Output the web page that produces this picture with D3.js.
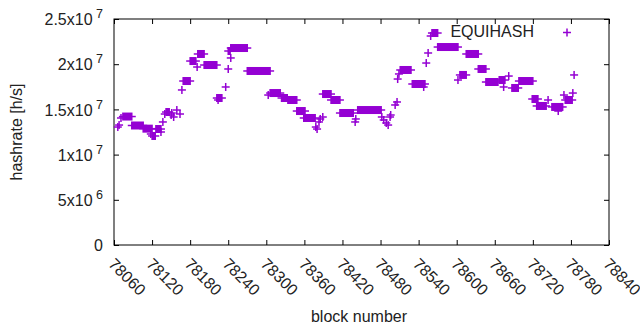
<!DOCTYPE html>
<html>
<head>
<meta charset="utf-8">
<script src="https://cdn.jsdelivr.net/npm/d3@7"></script>
<style>
  body { margin: 0; background: #fff; }
  text { font-family: "Liberation Sans", Arial, sans-serif; }
</style>
</head>
<body>
<div id="chart"></div>
<script>
// runs of consecutive blocks with the same hashrate (single points have start == end)
const runStart = [78066, 78068, 78071, 78074, 78088, 78106, 78118, 78120, 78126, 78134,
  78137, 78140, 78142, 78150, 78151, 78154, 78159, 78164, 78167, 78169,
  78180, 78191, 78192, 78202, 78222, 78224, 78236, 78240, 78240, 78244,
  78244, 78270, 78303, 78306, 78324, 78334, 78348, 78359, 78378, 78380,
  78383, 78385, 78389, 78389, 78402, 78416, 78440, 78441, 78444, 78482,
  78485, 78489, 78492, 78495, 78496, 78503, 78506, 78507, 78509, 78511,
  78530, 78548, 78552, 78555, 78559, 78561, 78570, 78602, 78605, 78615,
  78634, 78646, 78667, 78674, 78682, 78687, 78698, 78719, 78726, 78744,
  78750, 78760, 78769, 78771, 78783, 78785];
const runEnd = [78066, 78068, 78071, 78088, 78106, 78120, 78118, 78125, 78134, 78134,
  78137, 78140, 78147, 78150, 78151, 78154, 78159, 78164, 78167, 78180,
  78189, 78191, 78202, 78222, 78230, 78224, 78236, 78240, 78243, 78244,
  78270, 78306, 78303, 78322, 78333, 78348, 78361, 78377, 78378, 78380,
  78383, 78385, 78389, 78402, 78416, 78437, 78440, 78441, 78481, 78482,
  78485, 78489, 78492, 78495, 78496, 78503, 78506, 78507, 78509, 78528,
  78550, 78548, 78552, 78555, 78559, 78570, 78602, 78602, 78615, 78634,
  78646, 78665, 78676, 78674, 78682, 78697, 78720, 78728, 78741, 78744,
  78767, 78760, 78769, 78782, 78783, 78785];
const hashrate = [13.05e6, 13.27e6, 14.05e6, 14.21e6, 13.22e6, 12.87e6, 12.28e6, 12.06e6, 12.83e6, 12.50e6,
  13.61e6, 14.49e6, 14.71e6, 14.38e6, 14.60e6, 14.16e6, 14.93e6, 14.49e6, 17.15e6, 18.14e6,
  20.35e6, 19.69e6, 21.13e6, 19.91e6, 16.26e6, 16.04e6, 17.48e6, 19.47e6, 21.46e6, 20.69e6,
  21.79e6, 19.25e6, 16.59e6, 16.81e6, 16.26e6, 16.04e6, 14.82e6, 14.05e6, 13.05e6, 12.83e6,
  13.61e6, 13.94e6, 14.16e6, 16.70e6, 16.04e6, 14.60e6, 13.61e6, 13.94e6, 14.93e6, 14.16e6,
  13.83e6, 13.50e6, 13.27e6, 14.16e6, 14.38e6, 15.49e6, 15.82e6, 18.36e6, 18.92e6, 19.36e6,
  17.81e6, 17.48e6, 20.13e6, 21.24e6, 23.12e6, 23.45e6, 21.90e6, 18.25e6, 18.81e6, 21.13e6,
  19.47e6, 18.03e6, 18.25e6, 17.48e6, 18.69e6, 17.37e6, 18.14e6, 16.15e6, 15.38e6, 16.04e6,
  15.27e6, 14.82e6, 16.59e6, 16.04e6, 16.81e6, 18.81e6];

const xTicks = [78060, 78120, 78180, 78240, 78300, 78360, 78420, 78480, 78540, 78600, 78660, 78720, 78780, 78840];
const yTicks = [0, 5e6, 1e7, 1.5e7, 2e7, 2.5e7];
const yTickMant = ["0", "5x10", "1x10", "1.5x10", "2x10", "2.5x10"];
const yTickExp = ["", "6", "7", "7", "7", "7"];
const seriesName = "EQUIHASH";

const color = "#9400d3";
const fontSize = 16;
const W = 640, H = 330;
const plotL = 114, plotR = 609, plotT = 19, plotB = 245;

const svg = d3.select("#chart").append("svg")
  .attr("width", W).attr("height", H);
svg.append("rect").attr("width", W).attr("height", H).attr("fill", "#fff");

const x = d3.scaleLinear().domain([78060, 78840]).range([plotL, plotR]);
const y = d3.scaleLinear().domain([0, 2.5e7]).range([plotB, plotT]);

// axes with inward ticks, mirrored on top/right
const xAxis = svg.append("g")
  .attr("transform", "translate(0," + plotB + ")")
  .call(d3.axisBottom(x).tickValues(xTicks).tickSize(-5).tickFormat(d3.format("d")));
xAxis.selectAll("text")
  .attr("y", 0).attr("dy", 0)
  .attr("transform", "translate(-7,20) rotate(45)")
  .style("text-anchor", "start");

svg.append("g")
  .attr("transform", "translate(0," + plotT + ")")
  .call(d3.axisTop(x).tickValues(xTicks).tickSize(-5).tickFormat(""));

const yAxis = svg.append("g")
  .attr("transform", "translate(" + plotL + ",0)")
  .call(d3.axisLeft(y).tickValues(yTicks).tickSize(-5).tickPadding(11));
yAxis.selectAll("text").each(function(d, i) {
  const t = d3.select(this).text(null).attr("dy", "0.36em");
  t.append("tspan").text(yTickMant[i]);
  if (yTickExp[i]) t.append("tspan").attr("dy", -7).attr("font-size", 12.5).text(" " + yTickExp[i]);
});

svg.append("g")
  .attr("transform", "translate(" + plotR + ",0)")
  .call(d3.axisRight(y).tickValues(yTicks).tickSize(-5).tickFormat(""));

svg.selectAll(".domain").remove();
svg.selectAll(".tick line").attr("stroke", "#000");
svg.selectAll(".tick text")
  .attr("font-size", fontSize)
  .attr("fill", "#222");

svg.append("rect")
  .attr("x", plotL).attr("y", plotT)
  .attr("width", plotR - plotL).attr("height", plotB - plotT)
  .attr("fill", "none").attr("stroke", "#000").attr("stroke-width", 1);

// points: each block drawn as "+", consecutive equal values merge into a bar
const idx = d3.range(runStart.length);
const g = svg.append("g");
g.selectAll(".arm").data(idx).enter().append("line")
  .attr("x1", i => x(runStart[i]) - 4)
  .attr("x2", i => x(runEnd[i]) + 4)
  .attr("y1", i => y(hashrate[i]))
  .attr("y2", i => y(hashrate[i]))
  .attr("stroke", color).attr("stroke-width", 1.5);
g.selectAll(".body").data(idx).enter().append("rect")
  .attr("x", i => x(runStart[i]) - 0.75)
  .attr("width", i => x(runEnd[i]) - x(runStart[i]) + 1.5)
  .attr("y", i => y(hashrate[i]) - 4)
  .attr("height", 8)
  .attr("fill", color);

// legend
svg.append("text")
  .attr("x", 534).attr("y", 37)
  .attr("text-anchor", "end")
  .attr("font-size", fontSize).attr("fill", "#222")
  .text(seriesName);
svg.append("line")
  .attr("x1", 563).attr("x2", 571).attr("y1", 32.5).attr("y2", 32.5)
  .attr("stroke", color).attr("stroke-width", 1.5);
svg.append("line")
  .attr("x1", 567).attr("x2", 567).attr("y1", 28.5).attr("y2", 36.5)
  .attr("stroke", color).attr("stroke-width", 1.5);

// axis titles
svg.append("text")
  .attr("transform", "translate(22,132) rotate(-90)")
  .attr("text-anchor", "middle")
  .attr("font-size", fontSize).attr("fill", "#222")
  .text("hashrate [h/s]");
svg.append("text")
  .attr("x", 359).attr("y", 322)
  .attr("text-anchor", "middle")
  .attr("font-size", fontSize).attr("fill", "#222")
  .text("block number");
</script>
</body>
</html>
